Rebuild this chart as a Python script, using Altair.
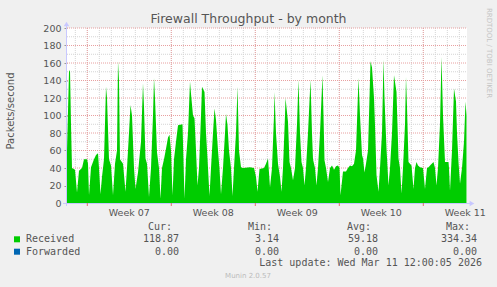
import altair as alt
import pandas as pd

# ---- data ----
hours = [0, 4, 6, 8, 10, 16, 20, 24, 30, 34, 40, 42, 44, 48, 54, 58, 62, 64, 67, 70,
         74, 78, 80, 84, 88, 92, 96, 100, 102, 104, 106, 112, 117, 120, 124, 127, 130, 134, 137, 142,
         148, 152, 154, 157, 160, 164, 168, 172, 174, 176, 180, 184, 187, 190, 194, 198, 202, 205, 208, 211,
         214, 218, 222, 231, 235, 238, 242, 246, 248, 252, 255, 258, 261, 264, 268, 270, 275, 278, 281, 285,
         288, 292, 295, 298, 302, 305, 308, 312, 316, 318, 321, 324, 328, 331, 334, 338, 341, 344, 348, 352,
         366, 374, 378, 381, 385, 394, 398, 402, 406, 410, 414, 415, 418, 422, 426, 429, 432, 436, 437, 442,
         445, 448, 452, 456, 460, 463, 466, 469, 472, 475, 478, 482, 487, 490, 492, 496, 499, 502, 506, 511,
         513, 515, 518, 522, 526, 530, 534, 538, 542, 545, 547, 552, 558, 562, 566, 570, 574, 578, 583, 586,
         590, 592, 595, 598, 602, 605, 607, 610, 614, 616, 619, 623, 626, 630, 633, 635, 639, 643, 646, 650,
         654, 659, 663, 666, 669, 672, 676, 678, 680, 683, 689, 693, 696, 699, 702, 706, 712, 716, 720, 723,
         728, 733, 736, 739, 742, 746, 749, 752, 756, 763, 764, 766, 770, 774, 778, 780, 783, 786, 790, 794,
         797, 799]
received = [60, 150, 152, 90, 40, 38, 12, 37, 40, 50, 50, 45, 9, 41, 50, 55, 57, 40, 10, 30,
            50, 133, 120, 50, 43, 9, 45, 60, 162, 140, 50, 45, 13, 40, 80, 112, 100, 40, 16, 35,
            70, 137, 110, 51, 45, 7, 40, 100, 143, 120, 58, 40, 5, 40, 50, 62, 75, 78, 60, 9,
            50, 70, 89, 90, 5, 50, 80, 139, 125, 100, 97, 60, 20, 40, 100, 133, 127, 80, 51, 8,
            40, 80, 108, 95, 60, 39, 10, 40, 80, 102, 89, 60, 40, 8, 40, 80, 133, 60, 41, 40,
            41, 40, 30, 13, 39, 40, 45, 51, 18, 40, 100, 127, 80, 45, 30, 13, 40, 100, 120, 93,
            47, 40, 26, 40, 90, 141, 80, 47, 40, 20, 40, 80, 141, 80, 50, 40, 20, 40, 80, 146,
            100, 49, 40, 24, 40, 43, 38, 42, 43, 40, 9, 36, 36, 40, 43, 42, 45, 60, 143, 100,
            55, 51, 35, 45, 60, 120, 162, 155, 120, 89, 32, 13, 40, 80, 164, 120, 62, 20, 40, 80,
            146, 127, 51, 40, 11, 40, 90, 144, 110, 47, 43, 16, 40, 47, 43, 41, 40, 16, 40, 41,
            44, 47, 40, 20, 40, 90, 167, 100, 47, 47, 40, 14, 60, 131, 116, 80, 47, 22, 40, 70,
            116, 100]

y_major = [20, 40, 60, 80, 100, 120, 140, 160, 180, 200]
y_minor = [10, 30, 50, 70, 90, 110, 130, 150, 170, 190]
y_labels = [0, 20, 40, 60, 80, 100, 120, 140, 160, 180, 200]
day_lines = [16.6 + 24 * k for k in range(33)]
week_lines = [40.6, 208.6, 376.6, 544.6, 712.6]
week_label_pos = [124.6, 292.6, 460.6, 628.6, 796.6]
week_labels = ["Week 07", "Week 08", "Week 09", "Week 10", "Week 11"]

legend_names = ["Received", "Forwarded"]
legend_colors = ["#00CC00", "#0066B3"]
col_heads = ["Cur:", "Min:", "Avg:", "Max:"]
col_values = [["118.87", "3.14", "59.18", "334.34"],
              ["0.00", "0.00", "0.00", "0.00"]]
title_text = "Firewall Throughput - by month"
y_title = "Packets/second"
last_update = "Last update: Wed Mar 11 12:00:05 2026"
credit = "Munin 2.0.57"
side_text = "RRDTOOL / TOBI OETIKER"

# ---- chart ----
W, H = 400, 175
xs = alt.Scale(domain=[0, 800], nice=False, zero=False)
ys = alt.Scale(domain=[0, 200], nice=False)
one = pd.DataFrame({"a": [0]})
TXT = "#555555"
MONO = "DejaVu Sans Mono"
SANS = "DejaVu Sans"

YAXIS = alt.Axis(values=y_labels, title=None, grid=False, domain=False,
                 tickSize=3, tickColor="#999999", labelPadding=3,
                 labelFont=SANS, labelFontSize=9.5, labelColor=TXT)


def label(txt, x, y, size=10, font=MONO, color=TXT, align="left", angle=0, baseline="middle"):
    return alt.Chart(one).mark_text(
        align=align, baseline=baseline, font=font, fontSize=size, color=color, angle=angle
    ).encode(x=alt.value(x), y=alt.value(y), text=alt.value(txt))


def hgrid(vals, color):
    return alt.Chart(pd.DataFrame({"v": vals})).mark_rule(
        color=color, strokeDash=[1, 1], strokeWidth=1
    ).encode(y=alt.Y("v:Q", scale=ys, axis=YAXIS), x=alt.value(0), x2=alt.value(W))


def vgrid(vals, color):
    return alt.Chart(pd.DataFrame({"h": vals})).mark_rule(
        color=color, strokeDash=[1, 1], strokeWidth=1
    ).encode(x=alt.X("h:Q", scale=xs, axis=None), y=alt.value(0), y2=alt.value(H))


df = pd.DataFrame({"h": hours, "v": received})

area = alt.Chart(df).mark_area(color="#00CC00", interpolate="linear").encode(
    x=alt.X("h:Q", scale=xs, axis=None),
    y=alt.Y("v:Q", scale=ys, axis=YAXIS),
)

wk = pd.DataFrame({"h": week_label_pos, "t": week_labels})
week_text = alt.Chart(wk).mark_text(
    font=SANS, fontSize=9.5, color=TXT, baseline="middle", align="center"
).encode(x=alt.X("h:Q", scale=xs, axis=None), y=alt.value(184.7), text="t:N")

xticks = alt.Chart(pd.DataFrame({"h": week_lines})).mark_rule(color="#e07070").encode(
    x=alt.X("h:Q", scale=xs, axis=None), y=alt.value(H), y2=alt.value(H + 3))

AXC = "#c8c8ff"
yaxis_line = alt.Chart(one).mark_rule(color=AXC).encode(
    x=alt.value(-0.5), y=alt.value(-4), y2=alt.value(H + 3))
xaxis_line = alt.Chart(one).mark_rule(color=AXC).encode(
    x=alt.value(-4), x2=alt.value(W + 4), y=alt.value(H + 0.5))
arrow_up = alt.Chart(one).mark_point(shape="triangle-up", filled=True, color=AXC, size=30, opacity=1).encode(
    x=alt.value(-0.5), y=alt.value(-4))
arrow_right = alt.Chart(one).mark_point(shape="triangle-right", filled=True, color=AXC, size=30, opacity=1).encode(
    x=alt.value(W + 5), y=alt.value(H + 0.5))

layers = [
    hgrid(y_minor, "#d4d4d4"), vgrid(day_lines, "#d4d4d4"),
    hgrid(y_major, "#e8a0a0"), vgrid(week_lines, "#e8a0a0"),
    area, yaxis_line, xaxis_line, arrow_up, arrow_right, xticks, week_text,
    label(title_text, 181.5, -9, size=12.5, font=SANS, color=TXT, align="center"),
    label(y_title, -56, 83, size=10, font=SANS, color=TXT, align="center", angle=270),
    label(side_text, 421.5, 25, size=7, font=SANS, color="#c4c4c4", align="center", angle=90),
]

head_x = [105, 205, 304, 403]
val_x = [112, 212, 311, 410]
row_y = [211.3, 223.7]
for hx, hd in zip(head_x, col_heads):
    layers.append(label(hd, hx, 199.3, align="right"))
for r in range(2):
    layers.append(alt.Chart(one).mark_rect(color=legend_colors[r]).encode(
        x=alt.value(-53), x2=alt.value(-47), y=alt.value(row_y[r] - 3), y2=alt.value(row_y[r] + 3)))
    layers.append(label(legend_names[r], -41, row_y[r]))
    for vx, vv in zip(val_x, col_values[r]):
        layers.append(label(vv, vx, row_y[r], align="right"))
layers.append(label(last_update, 415, 235.3, align="right"))
layers.append(label(credit, 181, 248, size=7, font=SANS, color="#bbbbbb", align="center"))

chart = alt.layer(*layers).properties(
    width=W, height=H,
    autosize=alt.AutoSizeParams(type="none"),
    padding={"left": 67, "top": 28, "right": 30, "bottom": 84},
    background="#F0F0F0",
).configure_view(stroke=None, fill="white")

chart.save("out.html", embed_options={"renderer": "svg", "actions": False})
